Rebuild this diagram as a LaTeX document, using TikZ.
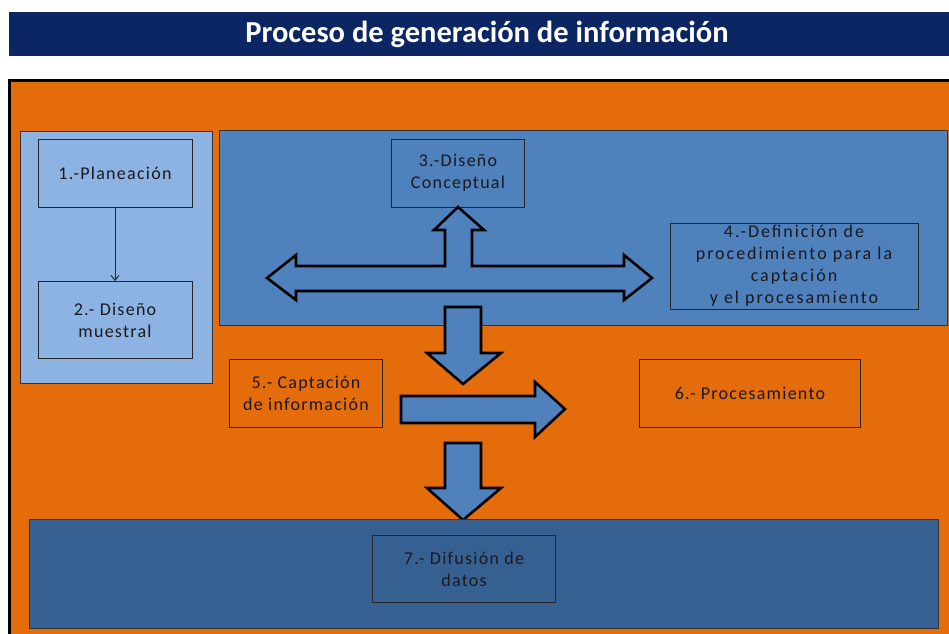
\documentclass[tikz,border=0pt]{standalone}
\usepackage{fontspec}
\setmainfont{Carlito}
\newfontfamily\stagefont[LetterSpace=7]{Carlito}
\newfontfamily\widestagefont[LetterSpace=11]{Carlito}
\usepackage{tikz}
\usetikzlibrary{arrows.meta}

\definecolor{titlenavy}{RGB}{12,37,99}
\definecolor{procorange}{RGB}{228,108,10}
\definecolor{lightblue}{RGB}{141,179,226}
\definecolor{midblue}{RGB}{79,129,189}
\definecolor{darkblue}{RGB}{54,96,146}
\definecolor{boxtext}{RGB}{25,25,30}

\begin{document}
\begin{tikzpicture}[x=1pt, y=-1pt]

	\tikzstyle{panel} = [draw=black!80, line width=0.8pt]
	\tikzstyle{stage} = [rectangle, draw=black!85, line width=0.9pt, inner sep=0pt, align=center, text=boxtext, font=\stagefont\fontsize{18}{22}\selectfont]
	\tikzstyle{block_arrow} = [draw=black, line width=2.6pt, line join=miter, fill=midblue]

	\useasboundingbox (0,0) rectangle (949,633);
	\clip (0,0) rectangle (949,633);
	\fill[white] (0,0) rectangle (949,633);

%------------------------------------------------------------
	\fill[titlenavy] (9,12) rectangle (960,56);
	\node[text=white, font=\bfseries\fontsize{30.5}{34}\selectfont] (title) at (487,34) {Proceso de generaci\'on de informaci\'on};

	\draw[fill=procorange, line width=3pt] (9,80) rectangle (965,645);

%------------------------------------------------------------
	\draw[panel, fill=lightblue] (20,131) rectangle (212,383);

	\node[stage, minimum width=154pt, minimum height=68pt] (plan) at (115,173) {1.-Planeaci\'on};
	\node[stage, minimum width=154pt, minimum height=77pt] (muestral) at (115,320) {2.- Dise\~no\\muestral};

	\draw[-{Straight Barb[length=5pt,width=8pt]}, line width=0.9pt, black!85] (plan) -- (muestral);

%------------------------------------------------------------
	\draw[panel, fill=midblue] (219,130) rectangle (947,325);

	\node[stage, minimum width=133pt, minimum height=68pt] (conceptual) at (458,173) {3.-Dise\~no\\Conceptual};
	\node[stage, minimum width=248pt, minimum height=86pt, font=\widestagefont\fontsize{18}{22}\selectfont] (definicion) at (794,266) {4.-Definici\'on de\\procedimiento para la\\captaci\'on\\y el procesamiento};

	\draw[block_arrow] (267,278) -- (296,255) -- (296,266) -- (445,266) -- (445,230)
		-- (434,230) -- (458,207) -- (484,230) -- (472,230) -- (472,266) -- (624,266)
		-- (624,255) -- (652,278) -- (624,300) -- (624,291) -- (296,291) -- (296,300) -- cycle;

%------------------------------------------------------------
	\node[stage, minimum width=153pt, minimum height=68pt] (captacion) at (306,393) {5.- Captaci\'on\\de informaci\'on};
	\node[stage, minimum width=221pt, minimum height=68pt] (procesamiento) at (750,393) {6.- Procesamiento};

	\draw[block_arrow] (445,307) -- (481,307) -- (481,353) -- (501,353) -- (463,384)
		-- (427,353) -- (445,353) -- cycle;
	\draw[block_arrow] (401,396) -- (535,396) -- (535,382) -- (565,409) -- (535,437)
		-- (535,423) -- (401,423) -- cycle;
	\draw[block_arrow] (445,443) -- (481,443) -- (481,488) -- (501,488) -- (463,520)
		-- (427,488) -- (445,488) -- cycle;

%------------------------------------------------------------
	\draw[panel, fill=darkblue] (29,519) rectangle (938,628);
	\node[stage, minimum width=183pt, minimum height=67pt] (difusion) at (464,569) {7.- Difusi\'on de\\datos};

\end{tikzpicture}
\end{document}
